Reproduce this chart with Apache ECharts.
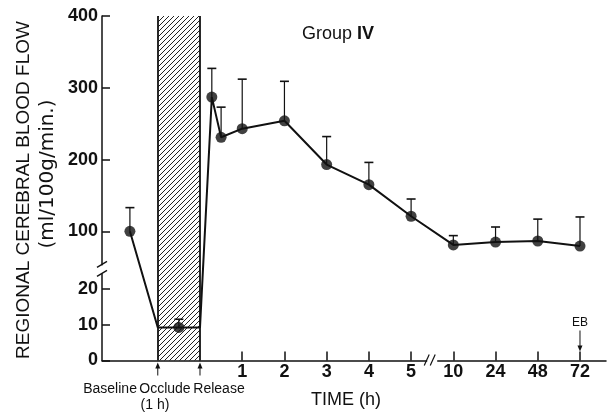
<!DOCTYPE html>
<html>
<head>
<meta charset="utf-8">
<script src="https://cdn.jsdelivr.net/npm/echarts@6/dist/echarts.min.js"></script>
<style>
  html, body { margin: 0; background: #fff; }
  #chart { width: 608px; height: 412px; }
</style>
</head>
<body>
<div id="chart"></div>
<script>
// time axis in slots: Release = 0, then one slot per labelled hour
const hourLabels = ['1', '2', '3', '4', '5', '10', '24', '48', '72'];
const hourSlots = [1, 2, 3, 4, 5, 6, 7, 8, 9];
const phaseLabels = ['Baseline', 'Occlude', 'Release'];

// baseline, during occlusion, two early release readings, then the hours
const pointSlot = [-1.66, -0.5, 0.28, 0.5, 1, 2, 3, 4, 5, 6, 7, 8, 9];
const flowMean = [100, 9.2, 287, 231, 243, 254, 193, 165, 121, 81, 85, 86.5, 79.5];
const flowUpper = [133, 11.5, 327, 273, 312, 309, 232, 196, 145, 94, 106, 117, 120];

const occlusion = [-1, 0];
const yTicks = [0, 10, 20, 100, 200, 300, 400];

// broken y scale: 0-20 drawn 5x taller, above 20 shifted 1:1
const toAxis = v => (v <= 20 ? v * 5 : v + 80);
const fromAxis = d => (d <= 100 ? d / 5 : d - 80);

const ink = '#111';
const font = 'Liberation Sans, Arial, sans-serif';

const linePts = pointSlot.map((x, i) => [x, toAxis(flowMean[i])]);
linePts.splice(1, 0, [occlusion[0], toAxis(flowMean[1])]);
linePts.splice(3, 0, [occlusion[1], toAxis(flowMean[1])]);

function hatch() {
  const c = document.createElement('canvas');
  c.width = c.height = 5;
  const g = c.getContext('2d');
  g.strokeStyle = '#222';
  g.lineWidth = 1;
  g.beginPath();
  for (const o of [-5, 0, 5]) {
    g.moveTo(o, 5);
    g.lineTo(o + 5, 0);
  }
  g.stroke();
  return { image: c, repeat: 'repeat' };
}

const chart = echarts.init(document.getElementById('chart'));

chart.setOption({
  backgroundColor: '#fff',
  animation: false,
  title: {
    text: '{n|Group }{b|IV}',
    left: 297,
    top: 20,
    textStyle: {
      rich: {
        n: { fontSize: 18, fontFamily: font, fontWeight: 'normal', color: ink },
        b: { fontSize: 18, fontFamily: font, fontWeight: 'bold', color: ink }
      }
    }
  },
  grid: { left: 102, right: 2, top: 16, bottom: 51 },
  xAxis: [
    {
      type: 'value',
      min: -2.321,
      max: 9.616,
      axisLine: { onZero: false, lineStyle: { color: ink, width: 1.5 } },
      axisTick: { inside: true, length: 9, customValues: hourSlots, lineStyle: { color: ink, width: 1.5 } },
      axisLabel: {
        customValues: hourSlots,
        margin: 3,
        formatter: v => hourLabels[hourSlots.indexOf(v)],
        fontSize: 18,
        fontWeight: 'bold',
        fontFamily: font,
        color: ink
      },
      splitLine: { show: false }
    },
    {
      type: 'value',
      position: 'bottom',
      min: -2.321,
      max: 9.616,
      axisLine: { show: false, onZero: false },
      axisTick: { show: false },
      splitLine: { show: false },
      axisLabel: {
        customValues: [-2.13, -0.83, 0.45],
        margin: 21,
        formatter: v => {
          if (v < -1.5) return '{p|' + phaseLabels[0] + '}';
          if (v < 0) return '{p|' + phaseLabels[1] + '}\n{h|(1 h)}';
          return '{p|' + phaseLabels[2] + '}';
        },
        rich: {
          p: { fontSize: 14, lineHeight: 15, fontFamily: font, color: ink },
          h: { fontSize: 14, lineHeight: 17, fontFamily: font, color: ink, padding: [0, 20, 0, 0] }
        }
      }
    }
  ],
  yAxis: {
    type: 'value',
    min: 0,
    max: 480,
    axisLine: { show: true, onZero: false, lineStyle: { color: ink, width: 1.5 } },
    axisTick: { show: true, inside: true, length: 8, customValues: yTicks.map(toAxis), lineStyle: { color: ink, width: 1.5 } },
    axisLabel: {
      customValues: yTicks.map(toAxis),
      formatter: d => String(Math.round(fromAxis(d))),
      margin: 4,
      fontSize: 18,
      fontWeight: 'bold',
      fontFamily: font,
      color: ink
    },
    splitLine: { show: false }
  },
  series: [
    {
      type: 'line',
      data: linePts,
      symbol: 'none',
      silent: true,
      lineStyle: { color: ink, width: 2 },
      z: 3,
      markArea: {
        silent: true,
        itemStyle: { color: hatch(), opacity: 1 },
        data: [[{ xAxis: occlusion[0] }, { xAxis: occlusion[1] }]]
      },
      markLine: {
        silent: true,
        symbol: ['none', 'none'],
        label: { show: false },
        lineStyle: { color: ink, type: 'solid', width: 1.8 },
        data: occlusion.map(x => ({ xAxis: x }))
      }
    },
    {
      type: 'custom',
      encode: { x: 0, y: [1, 2] },
      data: pointSlot.map((x, i) => [x, toAxis(flowMean[i]), toAxis(flowUpper[i])]),
      z: 4,
      silent: true,
      renderItem: (params, api) => {
        const base = api.coord([api.value(0), api.value(1)]);
        const top = api.coord([api.value(0), api.value(2)]);
        return {
          type: 'group',
          children: [
            { type: 'line', shape: { x1: base[0], y1: base[1], x2: top[0], y2: top[1] }, style: { stroke: ink, lineWidth: 1.2 } },
            { type: 'line', shape: { x1: top[0] - 4.5, y1: top[1], x2: top[0] + 4.5, y2: top[1] }, style: { stroke: ink, lineWidth: 1.6 } }
          ]
        };
      }
    },
    {
      type: 'scatter',
      data: pointSlot.map((x, i) => [x, toAxis(flowMean[i])]),
      symbolSize: 11,
      itemStyle: { color: ink },
      silent: true,
      z: 5
    }
  ]
});

// decorations: axis breaks, arrows, EB note, axis titles
const px = (x, d) => chart.convertToPixel({ gridIndex: 0 }, [x, d]);
const [axisX, axisY] = px(-2.321, 0);
const yb = px(0, toAxis(47))[1];
const xb = px(5.5, 0)[0];
const line = (x1, y1, x2, y2, w) => ({
  type: 'line', shape: { x1, y1, x2, y2 }, style: { stroke: ink, lineWidth: w || 1.4 }, z: 10
});
const arrowUp = x => [
  line(x, axisY + 15, x, axisY + 6, 1),
  { type: 'polygon', shape: { points: [[x, axisY + 2], [x - 2.5, axisY + 8], [x + 2.5, axisY + 8]] }, style: { fill: ink }, z: 10 }
];
const ebX = px(hourSlots[8], 0)[0];

chart.setOption({
  graphic: [
    { type: 'rect', shape: { x: axisX - 3, y: yb - 4, width: 6, height: 8 }, style: { fill: '#fff' }, z: 9 },
    line(axisX - 5, yb - 2, axisX + 5, yb - 8),
    line(axisX - 5, yb + 7, axisX + 5, yb + 1),
    { type: 'rect', shape: { x: xb - 5, y: axisY - 2, width: 10, height: 4 }, style: { fill: '#fff' }, z: 9 },
    line(xb - 8, axisY + 5, xb - 3, axisY - 6, 1.2),
    line(xb - 2, axisY + 5, xb + 3, axisY - 6, 1.2),
    ...arrowUp(px(occlusion[0], 0)[0]),
    ...arrowUp(px(occlusion[1], 0)[0]),
    { type: 'text', x: ebX, y: axisY - 38, style: { text: 'EB', font: '12px ' + font, fill: ink, align: 'center', verticalAlign: 'middle', textAlign: 'center', textVerticalAlign: 'middle' }, z: 10 },
    line(ebX, axisY - 30, ebX, axisY - 13, 1),
    { type: 'polygon', shape: { points: [[ebX, axisY - 9], [ebX - 2.5, axisY - 15], [ebX + 2.5, axisY - 15]] }, style: { fill: ink }, z: 10 },
    { type: 'text', x: 346, y: 400, style: { text: 'TIME (h)', font: '18px ' + font, fill: ink, align: 'center', verticalAlign: 'middle', textAlign: 'center', textVerticalAlign: 'middle' } },
    { type: 'text', x: 24, y: 190, rotation: Math.PI / 2, style: { text: 'REGIONAL CEREBRAL BLOOD FLOW', font: '19px ' + font, fill: ink, align: 'center', verticalAlign: 'middle', textAlign: 'center', textVerticalAlign: 'middle' } },
    { type: 'text', x: 48, y: 174, rotation: Math.PI / 2, style: { text: '(ml/100g/min.)', font: '20px DejaVu Sans, sans-serif', fill: ink, align: 'center', verticalAlign: 'middle', textAlign: 'center', textVerticalAlign: 'middle' } }
  ]
});
</script>
</body>
</html>
